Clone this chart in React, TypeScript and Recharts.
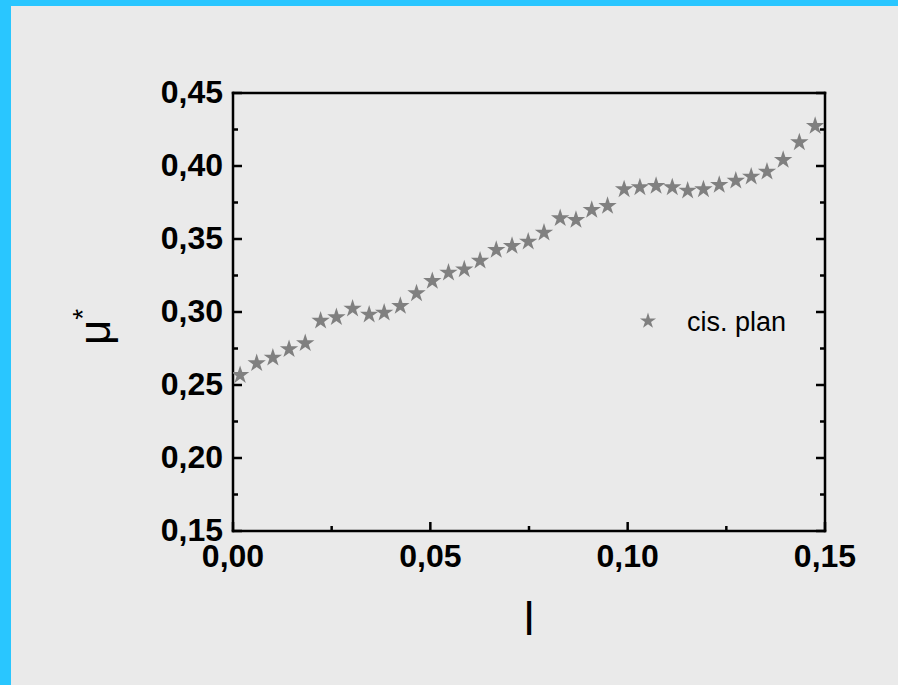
import React from 'react';
import { ScatterChart, Scatter, XAxis, YAxis, Legend, Symbols } from 'recharts';

const FONT = '"Liberation Sans", Arial, Helvetica, sans-serif';
const STAR_GREY = '#808080';
const STAR_AREA = 105;

// measured l values and the matching mu* values
const L_VALUES = [
  0.0018, 0.0060, 0.0101, 0.0142, 0.0183, 0.0222, 0.0262, 0.0303, 0.0345, 0.0383,
  0.0424, 0.0465, 0.0505, 0.0546, 0.0586, 0.0626, 0.0667, 0.0707, 0.0748, 0.0788,
  0.0829, 0.0869, 0.0909, 0.0949, 0.0991, 0.1031, 0.1072, 0.1113, 0.1152, 0.1192,
  0.1232, 0.1274, 0.1313, 0.1353, 0.1394, 0.1435, 0.1475,
];
const MU_VALUES = [
  0.2568, 0.2649, 0.2687, 0.2745, 0.2786, 0.2940, 0.2964, 0.3023, 0.2982, 0.2995,
  0.3041, 0.3128, 0.3212, 0.3269, 0.3292, 0.3351, 0.3425, 0.3452, 0.3482, 0.3543,
  0.3642, 0.3630, 0.3699, 0.3726, 0.3840, 0.3854, 0.3863, 0.3854, 0.3831, 0.3840,
  0.3870, 0.3899, 0.3927, 0.3961, 0.4041, 0.4162, 0.4274,
];

const X_TICKS = [0, 0.025, 0.05, 0.075, 0.1, 0.125, 0.15];
const Y_TICKS = [0.15, 0.175, 0.2, 0.225, 0.25, 0.275, 0.3, 0.325, 0.35, 0.375, 0.4, 0.425, 0.45];
const SERIES_NAME = 'cis. plan';

const points = L_VALUES.map((l, i) => ({ l, mu: MU_VALUES[i] }));

const isMajor = (v: number) => Math.round(v * 1000) % 50 === 0;
const fmt = (v: number) => v.toFixed(2).replace('.', ',');

// inward ticks, longer on the labelled values
function FrameTick(props: any) {
  const { x, y, payload, side, labelled } = props;
  const v = payload.value;
  const len = isMajor(v) ? 9 : 5;
  let x2 = x;
  let y2 = y;
  if (side === 'bottom') y2 = y - len;
  if (side === 'top') y2 = y + len;
  if (side === 'left') x2 = x + len;
  if (side === 'right') x2 = x - len;
  const showText = labelled && isMajor(v);
  return (
    <g>
      <line x1={x} y1={y} x2={x2} y2={y2} stroke="#000" strokeWidth={2.5} />
      {showText && side === 'bottom' && (
        <text x={x} y={y + 13} dy="0.71em" textAnchor="middle" fontFamily={FONT}
          fontWeight="bold" fontSize={32} fill="#000">{fmt(v)}</text>
      )}
      {showText && side === 'left' && (
        <text x={x - 10} y={y} dy="0.3em" textAnchor="end" fontFamily={FONT}
          fontWeight="bold" fontSize={32} fill="#000">{fmt(v)}</text>
      )}
    </g>
  );
}

function StarPoint(props: any) {
  const { cx, cy } = props;
  return <Symbols cx={cx} cy={cy} type="star" size={STAR_AREA} fill={STAR_GREY} />;
}

function MuLabel(props: any) {
  const { viewBox } = props;
  const bx = viewBox.x + viewBox.width - 123;
  const by = viewBox.y + viewBox.height / 2 + 33;
  return (
    <text x={bx} y={by} transform={`rotate(-90, ${bx}, ${by})`} fontFamily={FONT}
      fontSize={44} fill="#000">
      μ<tspan fontSize={28} dy={-18}>*</tspan>
    </text>
  );
}

function LLabel(props: any) {
  const { viewBox } = props;
  return (
    <text x={viewBox.x + viewBox.width / 2} y={viewBox.y + 104} textAnchor="middle"
      fontFamily={FONT} fontSize={46} fill="#000">l</text>
  );
}

function LegendBox() {
  return (
    <div style={{ position: 'relative', width: 200, height: 34 }}>
      <svg width={30} height={30} style={{ position: 'absolute', left: 0, top: 0 }}>
        <Symbols cx={15} cy={15} type="star" size={80} fill={STAR_GREY} />
      </svg>
      <span style={{ position: 'absolute', left: 54, top: 1, lineHeight: '30px', fontSize: 27,
        fontFamily: FONT, color: '#000', whiteSpace: 'nowrap' }}>{SERIES_NAME}</span>
    </div>
  );
}

const frameLine = { stroke: '#000', strokeWidth: 2.5, strokeLinecap: 'square' as const };

export default function App() {
  return (
    <div style={{ position: 'absolute', left: 0, top: 0, width: 898, height: 685, background: '#29C6FF' }}>
      <div style={{ position: 'absolute', left: 11, top: 6, width: 887, height: 679, background: '#EAEAEA' }} />
      <div style={{ position: 'absolute', left: 0, top: 0 }}>
        <ScatterChart width={898} height={685} margin={{ top: 92, right: 72, bottom: 153, left: 232 }}>
          <XAxis xAxisId={0} dataKey="l" type="number" domain={[0, 0.15]} ticks={X_TICKS}
            interval={0} height={1} tickSize={0} tickMargin={0} tickLine={false}
            axisLine={frameLine} allowDataOverflow
            tick={(p: any) => <FrameTick {...p} side="bottom" labelled />}
            label={<LLabel />} />
          <XAxis xAxisId="top" orientation="top" type="number" domain={[0, 0.15]} ticks={X_TICKS}
            interval={0} height={1} tickSize={0} tickMargin={0} tickLine={false}
            axisLine={frameLine} allowDataOverflow
            tick={(p: any) => <FrameTick {...p} side="top" />} />
          <YAxis yAxisId={0} dataKey="mu" type="number" domain={[0.15, 0.45]} ticks={Y_TICKS}
            interval={0} width={1} tickSize={0} tickMargin={0} tickLine={false}
            axisLine={frameLine} allowDataOverflow
            tick={(p: any) => <FrameTick {...p} side="left" labelled />}
            label={<MuLabel />} />
          <YAxis yAxisId="right" orientation="right" type="number" domain={[0.15, 0.45]} ticks={Y_TICKS}
            interval={0} width={1} tickSize={0} tickMargin={0} tickLine={false}
            axisLine={frameLine} allowDataOverflow
            tick={(p: any) => <FrameTick {...p} side="right" />} />
          <Legend layout="horizontal" verticalAlign="middle" align="center" content={<LegendBox />}
            wrapperStyle={{ left: 633, top: 306, width: 200, height: 34 }} />
          <Scatter name={SERIES_NAME} data={points} xAxisId={0} yAxisId={0} fill={STAR_GREY}
            shape={<StarPoint />} legendType="star" isAnimationActive={false} />
        </ScatterChart>
      </div>
    </div>
  );
}
